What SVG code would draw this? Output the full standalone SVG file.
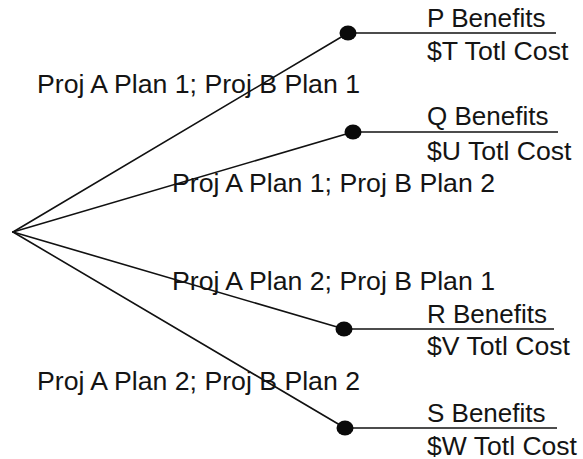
<svg xmlns="http://www.w3.org/2000/svg" width="583" height="459" viewBox="0 0 583 459">
  <style>
    .edge { stroke: #111; stroke-width: 1.6; fill: none; stroke-linecap: round; }
    .rule { stroke: #111; stroke-width: 1.6; fill: none; }
    .dot { fill: #0a0a0a; }
    text { font-family: "Liberation Sans", Arial, sans-serif; font-size: 25px; fill: #141414; }
  </style>
  <rect width="583" height="459" fill="#ffffff"/>

  <!-- branches fanning out from the decision point -->
  <g id="connectors">
    <line class="edge" x1="13" y1="232" x2="348" y2="33"/>
    <line class="edge" x1="13" y1="232" x2="353" y2="132"/>
    <line class="edge" x1="13" y1="232" x2="344" y2="329"/>
    <line class="edge" x1="13" y1="232" x2="345" y2="428"/>
  </g>

  <!-- branch labels -->
  <g id="branch-labels">
    <text x="37" y="93" textLength="323" lengthAdjust="spacingAndGlyphs">Proj A Plan 1; Proj B Plan 1</text>
    <text x="172" y="192" textLength="323" lengthAdjust="spacingAndGlyphs">Proj A Plan 1; Proj B Plan 2</text>
    <text x="172" y="290" textLength="323" lengthAdjust="spacingAndGlyphs">Proj A Plan 2; Proj B Plan 1</text>
    <text x="37" y="390" textLength="323" lengthAdjust="spacingAndGlyphs">Proj A Plan 2; Proj B Plan 2</text>
  </g>

  <!-- outcome P -->
  <g id="outcome-p">
    <line class="rule" x1="348" y1="33" x2="556" y2="33"/>
    <ellipse class="dot" cx="348" cy="33" rx="8.5" ry="7.5"/>
    <text x="427" y="27" textLength="118.5" lengthAdjust="spacingAndGlyphs">P Benefits</text>
    <text x="427" y="60" textLength="141.5" lengthAdjust="spacingAndGlyphs">$T Totl Cost</text>
  </g>

  <!-- outcome Q -->
  <g id="outcome-q">
    <line class="rule" x1="353" y1="132" x2="558" y2="132"/>
    <ellipse class="dot" cx="353" cy="132" rx="8.5" ry="7.5"/>
    <text x="427" y="125" textLength="121.5" lengthAdjust="spacingAndGlyphs">Q Benefits</text>
    <text x="427" y="160" textLength="144.5" lengthAdjust="spacingAndGlyphs">$U Totl Cost</text>
  </g>

  <!-- outcome R -->
  <g id="outcome-r">
    <line class="rule" x1="344" y1="329" x2="554" y2="329"/>
    <ellipse class="dot" cx="344" cy="329" rx="8.5" ry="7.5"/>
    <text x="427" y="323" textLength="120" lengthAdjust="spacingAndGlyphs">R Benefits</text>
    <text x="427" y="355" textLength="143" lengthAdjust="spacingAndGlyphs">$V Totl Cost</text>
  </g>

  <!-- outcome S -->
  <g id="outcome-s">
    <line class="rule" x1="345" y1="428" x2="557" y2="428"/>
    <ellipse class="dot" cx="345" cy="428" rx="8.5" ry="7.5"/>
    <text x="427" y="422" textLength="118.5" lengthAdjust="spacingAndGlyphs">S Benefits</text>
    <text x="427" y="455" textLength="150" lengthAdjust="spacingAndGlyphs">$W Totl Cost</text>
  </g>
</svg>
